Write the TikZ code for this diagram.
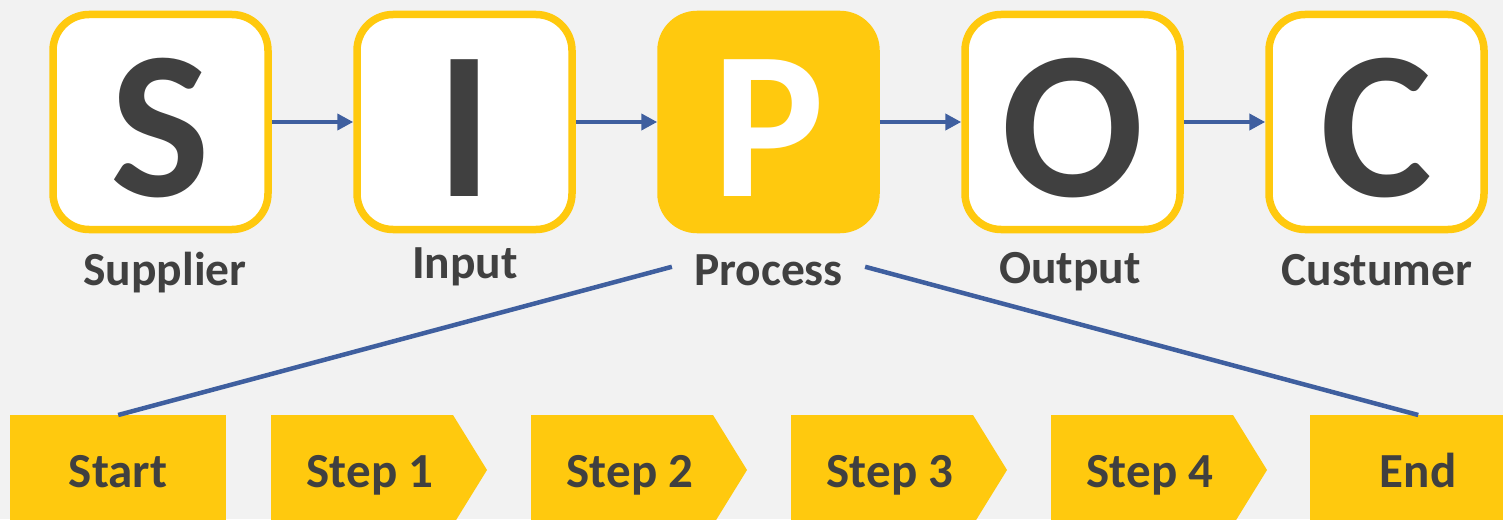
\documentclass[tikz,border=0pt]{standalone}
\usepackage{fontspec}
\setmainfont{Carlito}
\usetikzlibrary{arrows.meta}
\definecolor{sipocyellow}{HTML}{FFC90E}
\definecolor{sipocdark}{HTML}{404040}
\definecolor{sipocblue}{HTML}{3F5F9F}
\definecolor{sipocbg}{HTML}{F2F2F2}
\tikzset{
  letterbox/.style={draw=sipocyellow, line width=7.5pt, fill=white, rounded corners=36pt,
    minimum width=215pt, minimum height=215pt, inner sep=0pt},
  activebox/.style={letterbox, fill=sipocyellow},
  bigletter/.style={anchor=base, inner sep=0pt, text=sipocdark,
    font=\fontsize{211}{211}\selectfont\bfseries},
  boxlabel/.style={anchor=base, inner sep=0pt, text=sipocdark,
    font=\fontsize{47.5}{47.5}\selectfont\bfseries},
  flowarrow/.style={draw=sipocblue, line width=4.5pt, -{Triangle[length=16pt,width=16pt]}},
  zoomline/.style={draw=sipocblue, line width=4.5pt},
  stepshape/.style={fill=sipocyellow},
  steptext/.style={anchor=base, inner sep=0pt, text=sipocdark,
    font=\fontsize{49}{49}\selectfont\bfseries},
  endbox/.style={fill=sipocyellow, minimum width=216pt, minimum height=110pt, inner sep=0pt, anchor=north west}
}
\begin{document}
\begin{tikzpicture}[x=1pt,y=-1pt]
\fill[sipocbg] (0,0) rectangle (1503,519);
\clip (0,0) rectangle (1503,519);
\useasboundingbox (0,0) rectangle (1503,519);

% top boxes
\node[letterbox] (S) at (160.5,122) {};
\node[letterbox] (I) at (464.5,122) {};
\node[activebox] (P) at (768.5,122) {};
\node[letterbox] (O) at (1072.5,122) {};
\node[letterbox] (C) at (1376.5,122) {};

\node[bigletter] (Sl) at (160.5,196) {S};
\node[bigletter] (Il) at (464.5,196) {I};
\node[bigletter, text=white] (Pl) at (768.5,196) {P};
\node[bigletter] (Ol) at (1072.5,196) {O};
\node[bigletter] (Cl) at (1376.5,196) {C};

\draw[flowarrow] (S.east) -- (I.west);
\draw[flowarrow] (I.east) -- (P.west);
\draw[flowarrow] (P.east) -- (O.west);
\draw[flowarrow] (O.east) -- (C.west);

% labels
\node[boxlabel] (supplier) at (165,285) {Supplier};
\node[boxlabel] (input) at (465,278) {Input};
\node[boxlabel, inner xsep=22pt] (process) at (768.5,285) {Process};
\node[boxlabel] (output) at (1070,283) {Output};
\node[boxlabel] (customer) at (1377,285) {Custumer};

% bottom flow
\node[endbox] (start) at (10,415) {};
\node[endbox] (end) at (1310,415) {};
\foreach \x/\n in {271/1,531/2,791/3,1051/4}{
  \fill[stepshape] (\x,415) -- (\x+182,415) -- (\x+216,470) -- (\x+182,525) -- (\x,525) -- cycle;
}
\node[steptext] (starttext) at (118,487) {Start};
\node[steptext] (step1) at (370,487) {Step 1};
\node[steptext] (step2) at (630,487) {Step 2};
\node[steptext] (step3) at (890,487) {Step 3};
\node[steptext] (step4) at (1150,487) {Step 4};
\node[steptext] (endtext) at (1418,487) {End};

\draw[zoomline] ([yshift=3pt]process.west) -- (start.north);
\draw[zoomline] ([yshift=3pt]process.east) -- (end.north);
\end{tikzpicture}
\end{document}
